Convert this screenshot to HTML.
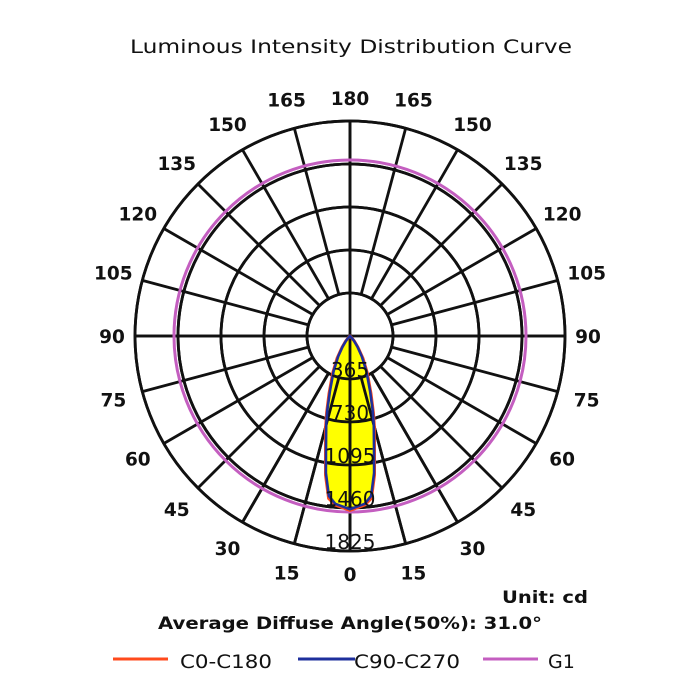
<!DOCTYPE html>
<html><head><meta charset="utf-8"><style>
body{margin:0;background:#fff;}
svg{display:block;font-family:"DejaVu Sans","Liberation Sans",sans-serif;}
</style></head><body>
<svg width="700" height="700" viewBox="0 0 700 700">
<text x="130" y="53" textLength="442" lengthAdjust="spacingAndGlyphs" font-size="19" fill="#111">Luminous Intensity Distribution Curve</text>
<g id="grid"></g>
<g id="curves"></g>
<g id="labels"></g>
<text x="502" y="603" textLength="86" lengthAdjust="spacingAndGlyphs" font-size="17" font-weight="bold" fill="#111">Unit: cd</text>
<text x="158" y="629" textLength="384" lengthAdjust="spacingAndGlyphs" font-size="17" font-weight="bold" fill="#111">Average Diffuse Angle(50%): 31.0°</text>
<g>
<g><line x1="113" y1="659" x2="168" y2="659" stroke="#ff4a1c" stroke-width="3"/><text x="180" y="668" textLength="92" lengthAdjust="spacingAndGlyphs" font-size="19" fill="#111">C0-C180</text></g>
<g><line x1="298" y1="659" x2="355" y2="659" stroke="#1e2f9c" stroke-width="3"/><text x="354" y="668" textLength="106" lengthAdjust="spacingAndGlyphs" font-size="19" fill="#111">C90-C270</text></g>
<g><line x1="483" y1="659" x2="538" y2="659" stroke="#c45ec0" stroke-width="3"/><text x="548" y="668" font-size="19" fill="#111">G1</text></g>
</g>
</svg>
<script>
const ringValues=[365,730,1095,1460,1825];
const angleLabels=[0,15,30,45,60,75,90,105,120,135,150,165,180];
const curveAngles=[0,5,7.5,10,12,15,17,20,25,30,35,40,50,90];
const c0Values=[1480,1440,1390,1200,1000,800,680,520,350,220,120,60,10,0];
const c90Values=[1470,1430,1370,1180,980,780,660,500,330,200,110,50,8,0];
const g1Value=1494;
const maxValue=1825;
const cx=350,cy=336,R=215,SW=2.8;
const NS="http://www.w3.org/2000/svg";
function rScale(v){return v/maxValue*R;}
function pt(angDeg,v,side){const a=angDeg*Math.PI/180;const r=rScale(v);return [cx+side*r*Math.sin(a),cy+r*Math.cos(a)];}
function mk(tag,attrs,parent){const e=document.createElementNS(NS,tag);for(const k in attrs)e.setAttribute(k,attrs[k]);parent.appendChild(e);return e;}
const grid=document.getElementById('grid');
ringValues.forEach(v=>{const c=mk('circle',{cx:cx,cy:cy,r:rScale(v),fill:'none',stroke:'#111','stroke-width':SW},grid);

});
for(let a=0;a<360;a+=15){const t=a*Math.PI/180;const r0=rScale(ringValues[0]);
const l=mk('line',{x1:cx+r0*Math.sin(t),y1:cy+r0*Math.cos(t),x2:cx+R*Math.sin(t),y2:cy+R*Math.cos(t),stroke:'#111','stroke-width':SW},grid);

}
{const l=mk('line',{x1:cx,y1:cy-R,x2:cx,y2:cy+R,stroke:'#111','stroke-width':SW},grid);


const h=mk('line',{x1:cx-R,y1:cy,x2:cx+R,y2:cy,stroke:'#111','stroke-width':SW},grid);

}
const curves=document.getElementById('curves');
function pathFor(vals){let pts=[];for(let i=curveAngles.length-1;i>=0;i--)pts.push(pt(curveAngles[i],vals[i],-1));for(let i=1;i<curveAngles.length;i++)pts.push(pt(curveAngles[i],vals[i],1));return 'M'+pts.map(p=>p[0].toFixed(1)+','+p[1].toFixed(1)).join(' L')+' Z';}
const fill=mk('path',{d:pathFor(c0Values),fill:'#ffff00',stroke:'none'},curves);


ringValues.forEach(v=>{mk('circle',{cx:cx,cy:cy,r:rScale(v),fill:'none',stroke:'#111','stroke-width':SW},curves);});
for(let a=0;a<360;a+=15){const t=a*Math.PI/180;const r0=rScale(ringValues[0]);if(a>30&&a<330)continue;mk('line',{x1:cx+r0*Math.sin(t),y1:cy+r0*Math.cos(t),x2:cx+R*Math.sin(t),y2:cy+R*Math.cos(t),stroke:'#111','stroke-width':SW},curves);}
mk('line',{x1:cx,y1:cy,x2:cx,y2:cy+R,stroke:'#111','stroke-width':SW},curves);
const g1=mk('circle',{cx:cx,cy:cy,r:rScale(g1Value),fill:'none',stroke:'#c45ec0','stroke-width':3},curves);


const c0=mk('path',{d:pathFor(c0Values),fill:'none',stroke:'#ff4a1c','stroke-width':3},curves);


const c90=mk('path',{d:pathFor(c90Values),fill:'none',stroke:'#1e2f9c','stroke-width':2.6},curves);


const labels=document.getElementById('labels');
ringValues.forEach(v=>{const t=mk('text',{x:cx,y:cy+rScale(v)-2,'text-anchor':'middle','font-size':20,fill:'#111'},labels);t.textContent=v;

});
angleLabels.forEach(a=>{[1,-1].forEach(s=>{if((a===0||a===180)&&s===-1)return;const t0=a*Math.PI/180;const rr=(a===0||a===180||a===90)?238:245;
const x=cx+s*rr*Math.sin(t0),y=cy+rr*Math.cos(t0)+7;
const t=mk('text',{x:x,y:y,'text-anchor':'middle','font-size':18.5,'font-weight':'bold',fill:'#111'},labels);t.textContent=a;

});});
</script>
</body></html>
